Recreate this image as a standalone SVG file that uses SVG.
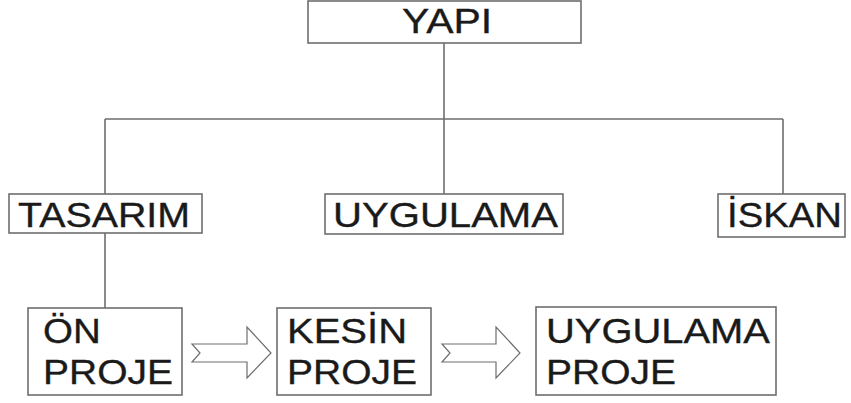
<svg xmlns="http://www.w3.org/2000/svg" width="851" height="403" viewBox="0 0 851 403">
  <style>
    .box { fill: #ffffff; stroke: #6e6e6e; stroke-width: 1.6; }
    .link { fill: none; stroke: #6e6e6e; stroke-width: 1.6; }
    .flow { fill: #ffffff; stroke: #6e6e6e; stroke-width: 1.2; stroke-linejoin: miter; }
    .lbl { font-family: "Liberation Sans", Arial, sans-serif; font-size: 35px; fill: #1a1a1a; stroke: #1a1a1a; stroke-width: 0.35; }
  </style>
  <rect width="851" height="403" fill="#ffffff"/>

  <!-- connectors -->
  <g id="connectors">
    <path class="link" d="M444 43 V119 M105 119 H783 M105 119 V194 M444 119 V194 M783 119 V194 M105 232 V308"/>
    <path class="flow" d="M192 344 H247 V327 L271 353 L247 378 V362 H192 L200 353 Z"/>
    <path class="flow" d="M442 344 H496 V327 L520 353 L496 378 V362 H442 L450 353 Z"/>
  </g>

  <!-- labels are widened horizontally with scale() -->
  <g id="yapi">
    <rect class="box" x="308" y="1" width="273" height="42"/>
    <text class="lbl" font-size="33" transform="translate(402 33) scale(1.17 1)">YAPI</text>
  </g>

  <g id="tasarim">
    <rect class="box" x="9" y="194" width="193" height="39"/>
    <text class="lbl" transform="translate(18 227) scale(1.125 1)">TASARIM</text>
  </g>

  <g id="uygulama">
    <rect class="box" x="325" y="194" width="238" height="40"/>
    <text class="lbl" transform="translate(333 227) scale(1.146 1)">UYGULAMA</text>
  </g>

  <g id="iskan">
    <rect class="box" x="718" y="194" width="127" height="43"/>
    <text class="lbl" transform="translate(727 227) scale(1.095 1)">İSKAN</text>
  </g>

  <g id="on-proje">
    <rect class="box" x="28" y="308" width="154" height="87"/>
    <text class="lbl" transform="translate(43 343) scale(1.1 1)">ÖN</text>
    <text class="lbl" transform="translate(43 384) scale(1.114 1)">PROJE</text>
  </g>

  <g id="kesin-proje">
    <rect class="box" x="277" y="308" width="154" height="87"/>
    <text class="lbl" transform="translate(287 343) scale(1.143 1)">KESİN</text>
    <text class="lbl" transform="translate(287 384) scale(1.114 1)">PROJE</text>
  </g>

  <g id="uygulama-proje">
    <rect class="box" x="536" y="307" width="240" height="88"/>
    <text class="lbl" transform="translate(546 343) scale(1.14 1)">UYGULAMA</text>
    <text class="lbl" transform="translate(546 384) scale(1.114 1)">PROJE</text>
  </g>
</svg>
